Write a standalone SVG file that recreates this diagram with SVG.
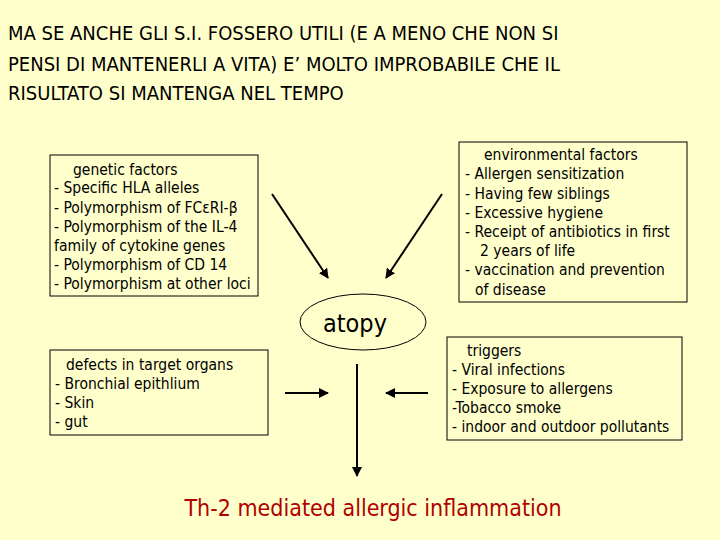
<svg xmlns="http://www.w3.org/2000/svg" width="720" height="540" viewBox="0 0 720 540">
<defs>
<marker id="ah" viewBox="0 0 10 10" refX="9" refY="5" markerWidth="5" markerHeight="5" orient="auto"><path d="M0,0 L10,5 L0,10 Z" fill="#000"/></marker>
<style>
text{font-family:"DejaVu Sans Condensed","Liberation Sans",sans-serif;fill:#000}
.t{font-size:20px;fill:#1a1a1a}
.b{font-size:15.5px}
.h{font-size:15.5px}
rect{fill:none;stroke:#000;stroke-width:1}
.c{stroke:#000;stroke-width:2;marker-end:url(#ah);fill:none}
</style>
</defs>
<rect x="0" y="0" width="720" height="540" style="fill:#FFFFCC;stroke:none"/>
<g id="title" class="t">
<text x="8" y="40">MA SE ANCHE GLI S.I. FOSSERO UTILI (E A MENO CHE NON SI</text>
<text x="8" y="71">PENSI DI MANTENERLI A VITA) E’ MOLTO IMPROBABILE CHE IL</text>
<text x="8" y="100">RISULTATO SI MANTENGA NEL TEMPO</text>
</g>
<g id="genetic">
<rect x="50" y="155" width="208" height="141"/>
<text class="h" x="73" y="175">genetic factors</text>
<text class="b" x="54" y="193">- Specific HLA alleles</text>
<text class="b" x="54" y="213">- Polymorphism of FCεRI-β</text>
<text class="b" x="54" y="232">- Polymorphism of the IL-4</text>
<text class="b" x="54" y="251">family of cytokine genes</text>
<text class="b" x="54" y="270">- Polymorphism of CD 14</text>
<text class="b" x="54" y="289">- Polymorphism at other loci</text>
</g>
<g id="environmental">
<rect x="459" y="142" width="228" height="160"/>
<text class="h" x="484" y="160">environmental factors</text>
<text class="b" x="465" y="179">- Allergen sensitization</text>
<text class="b" x="465" y="199">- Having few siblings</text>
<text class="b" x="465" y="218">- Excessive hygiene</text>
<text class="b" x="465" y="237">- Receipt of antibiotics in first</text>
<text class="b" x="480" y="256">2 years of life</text>
<text class="b" x="465" y="275">- vaccination and prevention</text>
<text class="b" x="475" y="295">of disease</text>
</g>
<g id="atopy">
<ellipse cx="363" cy="322" rx="63" ry="28" fill="none" stroke="#000" stroke-width="1"/>
<text x="355" y="332" font-size="25" text-anchor="middle">atopy</text>
</g>
<g id="defects">
<rect x="50" y="350" width="218" height="85"/>
<text class="h" x="66" y="370">defects in target organs</text>
<text class="b" x="55" y="389">- Bronchial epithlium</text>
<text class="b" x="55" y="408">- Skin</text>
<text class="b" x="55" y="427">- gut</text>
</g>
<g id="triggers">
<rect x="447" y="337" width="235" height="103"/>
<text class="h" x="467" y="356">triggers</text>
<text class="b" x="452" y="375">- Viral infections</text>
<text class="b" x="452" y="394">- Exposure to allergens</text>
<text class="b" x="452" y="413">-Tobacco smoke</text>
<text class="b" x="452" y="432">- indoor and outdoor pollutants</text>
</g>
<g id="outcome">
<text x="373" y="516" font-size="23" text-anchor="middle" style="fill:#B00000">Th-2 mediated allergic inflammation</text>
</g>
<g id="connectors">
<line class="c" x1="272" y1="194" x2="328" y2="278"/>
<line class="c" x1="442" y1="194" x2="386" y2="278"/>
<line class="c" x1="285" y1="393" x2="328" y2="393"/>
<line class="c" x1="428" y1="393" x2="386" y2="393"/>
<line class="c" x1="357" y1="364" x2="357" y2="476"/>
</g>
</svg>
